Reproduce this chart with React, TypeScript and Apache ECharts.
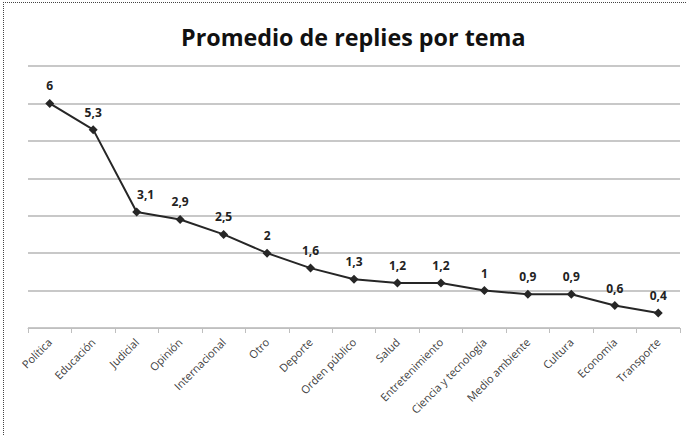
import React, { useEffect, useRef } from "react";
import * as echarts from "echarts";

const categories = [
  "Política",
  "Educación",
  "Judicial",
  "Opinión",
  "Internacional",
  "Otro",
  "Deporte",
  "Orden público",
  "Salud",
  "Entretenimiento",
  "Ciencia y tecnología",
  "Medio ambiente",
  "Cultura",
  "Economía",
  "Transporte",
];
const values = [6, 5.3, 3.1, 2.9, 2.5, 2, 1.6, 1.3, 1.2, 1.2, 1, 0.9, 0.9, 0.6, 0.4];
const titleText = "Promedio de replies por tema";

export default function App() {
  const ref = useRef<HTMLDivElement>(null);
  useEffect(() => {
    if (!ref.current) return;
    const chart = echarts.init(ref.current, null, { renderer: "svg" });
    const seriesData = values.map((v, i) =>
      i === 2 ? { value: v, label: { offset: [9, 0] } } : v
    );
    chart.setOption({
      animation: false,
      backgroundColor: "#ffffff",
      title: {
        text: titleText,
        left: 176,
        top: 20,
        textStyle: {
          fontFamily: "Open Sans",
          fontSize: 23.3,
          fontWeight: "bold",
          color: "#111111",
        },
      },
      graphic: [
        {
          type: "line",
          shape: { x1: 3, y1: 2.5, x2: 686, y2: 2.5 },
          style: { stroke: "#444", lineWidth: 1, lineDash: [1, 1] },
          silent: true,
        },
        {
          type: "line",
          shape: { x1: 3.5, y1: 2, x2: 3.5, y2: 435 },
          style: { stroke: "#444", lineWidth: 1, lineDash: [1, 1] },
          silent: true,
        },
      ],
      grid: { left: 28, right: 6, top: 66, bottom: 107, containLabel: false },
      xAxis: {
        type: "category",
        data: categories,
        boundaryGap: true,
        axisLine: { lineStyle: { color: "#bfbfbf", width: 1 } },
        axisTick: { show: true, length: 5, lineStyle: { color: "#bfbfbf" } },
        axisLabel: {
          rotate: 45,
          interval: 0,
          margin: 12,
          fontFamily: "Open Sans",
          fontSize: 11,
          color: "#404040",
        },
      },
      yAxis: {
        type: "value",
        min: 0,
        max: 7,
        interval: 1,
        axisLabel: { show: false },
        axisLine: { show: false },
        axisTick: { show: false },
        splitLine: { lineStyle: { color: "#c8c8c8", width: 2 } },
      },
      series: [
        {
          type: "line",
          data: seriesData,
          symbol: "diamond",
          symbolSize: 9,
          itemStyle: { color: "#262626" },
          lineStyle: { color: "#262626", width: 2 },
          label: {
            show: true,
            position: "top",
            distance: 7,
            fontFamily: "Open Sans",
            fontSize: 12,
            fontWeight: "bold",
            color: "#222222",
            formatter: (p: any) => String(p.value).replace(".", ","),
          },
        },
      ],
    });
    return () => chart.dispose();
  }, []);
  return (
    <div
      ref={ref}
      style={{ position: "absolute", left: 0, top: 0, width: 686, height: 435 }}
    />
  );
}
